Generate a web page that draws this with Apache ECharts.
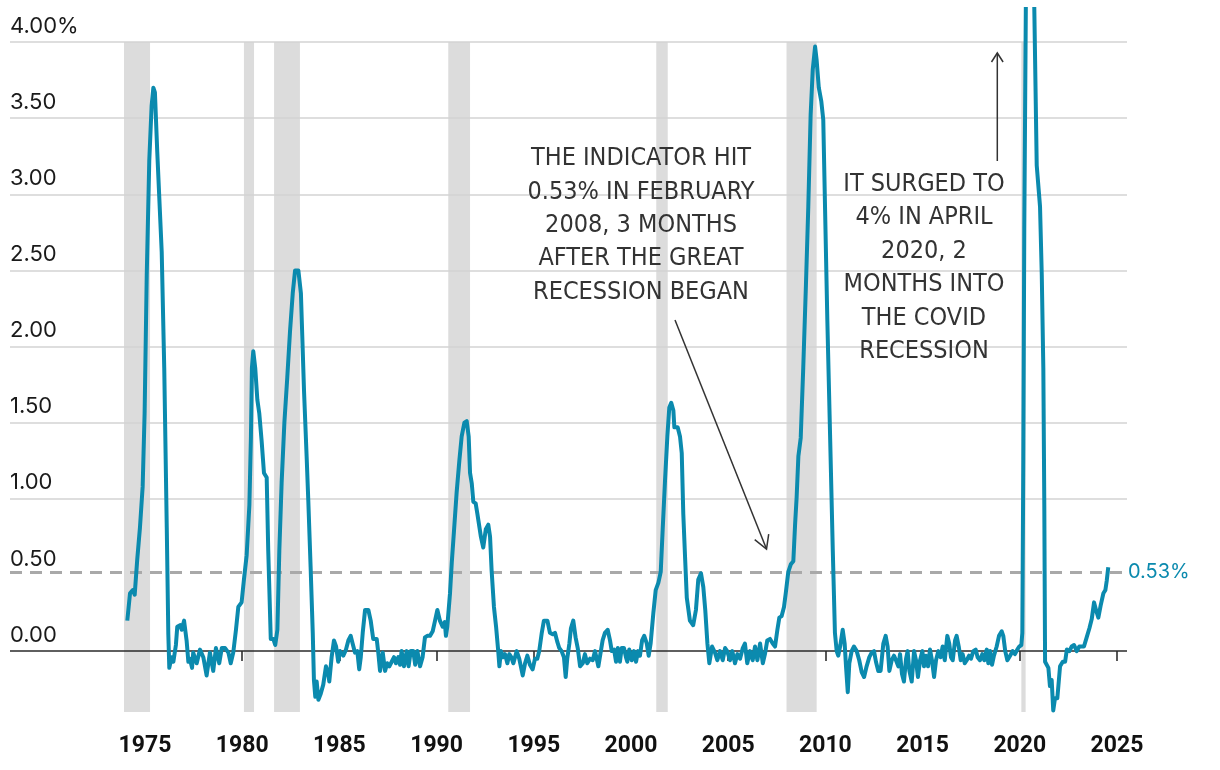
<!DOCTYPE html>
<html><head><meta charset="utf-8">
<script src="https://cdn.jsdelivr.net/npm/echarts@6/dist/echarts.min.js"></script>
<style>html,body{margin:0;padding:0;background:#fff}#c{width:1220px;height:770px}</style>
</head><body><div id="c"></div>
<script>
// decimal year of each reading
const dates = [
1974.09,1974.23,1974.37,1974.47,1974.60,1974.74,1974.88,1974.98,1975.09,1975.22,1975.34,1975.43,1975.51,1975.63,1975.86,1975.99,
1976.12,1976.20,1976.25,1976.37,1976.46,1976.59,1976.66,1976.80,1976.89,1977.01,1977.14,1977.23,1977.31,1977.42,1977.48,1977.66,
1977.83,1978.00,1978.17,1978.34,1978.51,1978.65,1978.82,1978.95,1979.12,1979.29,1979.41,1979.54,1979.60,1979.68,1979.80,1979.97,
1980.09,1980.23,1980.37,1980.45,1980.50,1980.57,1980.67,1980.78,1980.88,1981.00,1981.12,1981.26,1981.34,1981.47,1981.60,1981.70,
1981.81,1981.91,1982.03,1982.17,1982.32,1982.46,1982.60,1982.72,1982.89,1983.02,1983.18,1983.32,1983.40,1983.52,1983.63,1983.69,
1983.76,1983.83,1983.92,1984.04,1984.17,1984.31,1984.43,1984.48,1984.60,1984.72,1984.83,1984.94,1985.03,1985.20,1985.34,1985.46,
1985.58,1985.68,1985.80,1985.92,1986.02,1986.10,1986.20,1986.32,1986.49,1986.61,1986.74,1986.92,1987.00,1987.09,1987.23,1987.35,
1987.46,1987.57,1987.69,1987.81,1987.91,1988.03,1988.12,1988.20,1988.32,1988.46,1988.56,1988.67,1988.80,1988.90,1989.01,1989.15,
1989.28,1989.40,1989.52,1989.66,1989.80,1989.92,1990.04,1990.17,1990.31,1990.42,1990.48,1990.55,1990.69,1990.78,1990.90,1991.03,
1991.17,1991.29,1991.43,1991.55,1991.65,1991.72,1991.81,1991.89,1992.01,1992.10,1992.20,1992.28,1992.40,1992.53,1992.66,1992.75,
1992.83,1992.95,1993.06,1993.17,1993.23,1993.31,1993.43,1993.52,1993.64,1993.74,1993.84,1993.95,1994.12,1994.25,1994.43,1994.55,
1994.67,1994.80,1994.94,1995.06,1995.18,1995.28,1995.41,1995.52,1995.70,1995.83,1995.97,1996.09,1996.21,1996.31,1996.43,1996.55,
1996.64,1996.72,1996.83,1996.91,1997.03,1997.15,1997.26,1997.38,1997.52,1997.63,1997.75,1997.89,1998.03,1998.15,1998.32,1998.54,
1998.66,1998.80,1998.92,1999.01,1999.13,1999.23,1999.32,1999.43,1999.52,1999.64,1999.74,1999.81,1999.91,2000.04,2000.15,2000.26,
2000.36,2000.46,2000.57,2000.68,2000.81,2000.91,2001.01,2001.15,2001.27,2001.41,2001.53,2001.63,2001.75,2001.87,2001.97,2002.07,
2002.18,2002.23,2002.40,2002.52,2002.61,2002.69,2002.78,2002.87,2003.03,2003.20,2003.34,2003.46,2003.60,2003.72,2003.82,2003.93,
2004.03,2004.17,2004.32,2004.44,2004.58,2004.72,2004.84,2004.95,2005.09,2005.21,2005.35,2005.47,2005.61,2005.75,2005.86,2005.98,
2006.12,2006.26,2006.38,2006.50,2006.64,2006.78,2006.89,2007.01,2007.15,2007.29,2007.41,2007.53,2007.63,2007.75,2007.87,2007.97,
2008.09,2008.22,2008.35,2008.44,2008.52,2008.61,2008.73,2008.86,2009.00,2009.12,2009.24,2009.35,2009.47,2009.55,2009.66,2009.79,
2009.89,2009.98,2010.10,2010.24,2010.38,2010.49,2010.58,2010.66,2010.77,2010.89,2010.99,2011.06,2011.15,2011.23,2011.35,2011.47,
2011.61,2011.74,2011.87,2011.99,2012.12,2012.26,2012.38,2012.50,2012.60,2012.72,2012.84,2012.98,2013.10,2013.20,2013.29,2013.41,
2013.53,2013.63,2013.75,2013.84,2013.94,2014.04,2014.15,2014.23,2014.32,2014.44,2014.56,2014.66,2014.76,2014.87,2014.99,2015.07,
2015.17,2015.28,2015.38,2015.48,2015.59,2015.69,2015.81,2015.93,2016.03,2016.14,2016.27,2016.37,2016.46,2016.55,2016.67,2016.75,
2016.86,2016.96,2017.06,2017.17,2017.27,2017.39,2017.49,2017.61,2017.73,2017.83,2017.95,2018.07,2018.17,2018.30,2018.38,2018.47,
2018.57,2018.67,2018.81,2018.93,2019.07,2019.15,2019.25,2019.36,2019.50,2019.63,2019.75,2019.87,2019.97,2020.08,2020.13,2020.18,
2020.23,2020.33,2020.50,2020.70,2020.87,2021.04,2021.13,2021.21,2021.26,2021.30,2021.38,2021.47,2021.55,2021.64,2021.72,2021.81,
2021.93,2022.07,2022.21,2022.33,2022.42,2022.55,2022.67,2022.79,2022.93,2023.06,2023.18,2023.30,2023.44,2023.58,2023.70,2023.82,
2023.92,2024.04,2024.16,2024.30,2024.40,2024.47,2024.55
];
// indicator value, percentage points
const values = [
0.20,0.38,0.40,0.37,0.60,0.81,1.08,1.56,2.47,3.22,3.58,3.70,3.67,3.28,2.62,1.86,
0.81,0.11,-0.11,-0.04,-0.07,0.04,0.16,0.17,0.14,0.20,0.07,-0.07,-0.05,-0.11,-0.01,-0.08,
0.01,-0.04,-0.16,-0.01,-0.13,0.02,-0.08,0.02,0.02,-0.01,-0.08,-0.01,0.00,0.14,0.29,0.32,
0.47,0.63,0.96,1.41,1.86,1.97,1.86,1.65,1.56,1.38,1.17,1.14,0.66,0.08,0.08,0.04,
0.14,0.66,1.11,1.50,1.80,2.10,2.35,2.50,2.50,2.35,1.71,1.26,0.99,0.55,0.12,-0.19,
-0.30,-0.20,-0.32,-0.28,-0.22,-0.10,-0.15,-0.20,-0.04,0.07,0.03,-0.07,0.00,-0.03,0.01,0.07,
0.10,0.05,-0.01,0.00,-0.12,-0.04,0.12,0.27,0.27,0.20,0.08,0.08,-0.01,-0.13,-0.01,-0.13,
-0.08,-0.10,-0.07,-0.04,-0.08,-0.04,-0.09,0.00,-0.10,0.00,-0.10,0.00,0.00,-0.09,0.00,-0.10,
-0.04,0.09,0.10,0.10,0.13,0.20,0.27,0.20,0.16,0.19,0.10,0.16,0.38,0.58,0.80,1.04,
1.25,1.41,1.50,1.51,1.41,1.17,1.10,0.98,0.97,0.90,0.89,0.75,0.68,0.80,0.83,0.75,
0.53,0.29,0.16,0.00,-0.10,0.00,-0.04,-0.02,-0.08,-0.02,-0.04,-0.08,0.00,-0.05,-0.16,-0.08,
-0.03,-0.09,-0.12,-0.05,-0.05,0.00,0.12,0.20,0.20,0.12,0.11,0.12,0.06,0.02,0.00,-0.04,
-0.17,-0.05,0.05,0.15,0.20,0.09,0.02,-0.10,-0.08,-0.02,-0.08,-0.05,-0.06,0.00,-0.10,0.07,
0.12,0.14,0.07,0.00,0.01,-0.07,0.02,-0.07,0.02,0.02,-0.04,-0.07,0.01,-0.06,0.00,-0.07,
0.00,-0.03,0.07,0.10,0.05,-0.03,0.05,0.25,0.40,0.45,0.52,0.80,1.12,1.41,1.60,1.63,
1.58,1.47,1.47,1.41,1.30,0.90,0.62,0.35,0.20,0.17,0.27,0.47,0.51,0.42,0.27,0.05,
-0.08,0.03,-0.01,-0.06,0.00,-0.06,0.02,0.00,-0.06,0.00,-0.08,-0.02,-0.05,0.02,0.05,-0.08,
0.00,-0.06,0.03,-0.06,0.05,-0.08,-0.02,0.07,0.08,0.05,0.03,0.14,0.22,0.23,0.29,0.39,
0.52,0.57,0.59,0.83,1.01,1.28,1.40,1.86,2.41,2.92,3.52,3.82,3.97,3.88,3.70,3.61,
3.49,2.92,2.17,1.42,0.66,0.12,0.00,-0.03,0.04,0.14,0.05,-0.10,-0.27,-0.08,0.00,0.03,
0.00,-0.06,-0.14,-0.17,-0.10,-0.04,-0.01,0.00,-0.07,-0.13,-0.13,0.05,0.10,0.03,-0.13,-0.06,
-0.03,-0.06,-0.10,-0.02,-0.15,-0.20,-0.05,0.00,-0.13,-0.20,0.00,-0.06,-0.17,-0.06,0.00,-0.10,
-0.03,-0.10,0.01,-0.06,-0.17,-0.06,0.00,-0.04,0.03,-0.06,0.10,0.05,-0.04,-0.06,0.07,0.10,
0.03,-0.06,-0.02,-0.08,-0.06,-0.03,-0.05,0.00,0.01,-0.04,-0.06,-0.02,-0.06,0.01,-0.08,0.00,
-0.09,-0.03,0.03,0.10,0.13,0.10,0.00,-0.06,-0.03,0.00,-0.02,0.01,0.03,0.04,0.12,1.26,
2.77,4.60,5.00,4.60,3.19,2.92,2.47,1.86,0.96,-0.07,-0.07,-0.11,-0.23,-0.19,-0.39,-0.31,
-0.31,-0.10,-0.07,-0.07,0.01,0.00,0.03,0.04,0.00,0.03,0.03,0.03,0.09,0.15,0.21,0.32,
0.27,0.22,0.30,0.38,0.40,0.46,0.55
];
// recession periods (start, end), decimal years
const recessionStarts = [1973.92, 1980.09, 1981.64, 1990.60, 2001.30, 2008.00, 2020.08];
const recessionEnds   = [1975.26, 1980.61, 1982.97, 1991.72, 2001.89, 2009.55, 2020.30];
const xTickValues = [1975, 1980, 1985, 1990, 1995, 2000, 2005, 2010, 2015, 2020, 2025];
const yTickValues = [0, 0.5, 1, 1.5, 2, 2.5, 3, 3.5, 4];
const gridLineValues = [1, 1.5, 2, 2.5, 3, 3.5, 4];
const thresholdLevel = 0.515;
const thresholdLabel = '0.53%';
const annotation1 = ['THE INDICATOR HIT', '0.53% IN FEBRUARY', '2008, 3 MONTHS', 'AFTER THE GREAT', 'RECESSION BEGAN'];
const annotation2 = ['IT SURGED TO', '4% IN APRIL', '2020, 2', 'MONTHS INTO', 'THE COVID', 'RECESSION'];

const LINE = '#0b8aae';
const NARROW = '"Liberation Sans Narrow", "DejaVu Sans Condensed", "Arial Narrow", sans-serif';
const chart = echarts.init(document.getElementById('c'), null, {renderer: 'canvas'});
const seriesData = dates.map((d, i) => [d, values[i]]);

const option = {
  animation: false,
  backgroundColor: '#fff',
  grid: {left: 10, right: 93, top: 9, bottom: 58, containLabel: false, outerBoundsMode: 'none'},
  xAxis: {
    type: 'value', min: 1968.056, max: 2025.514,
    axisLine: {show: false},
    splitLine: {show: false},
    axisTick: {show: true, customValues: xTickValues, length: 10, lineStyle: {color: '#222', width: 1.5}},
    axisLabel: {customValues: xTickValues, margin: 23, color: '#111', fontSize: 23, fontWeight: 'bold',
      fontFamily: 'Roboto, "Liberation Sans", sans-serif', formatter: v => String(Math.round(v))}
  },
  yAxis: {
    type: 'value', min: -0.4, max: 4.217,
    axisLine: {show: false}, axisTick: {show: false}, splitLine: {show: false},
    axisLabel: {customValues: yTickValues, inside: true, margin: 0, align: 'left', verticalAlign: 'bottom',
      padding: [0, 0, 5, 0], color: '#1a1a1a', fontSize: 22, fontFamily: 'Inter, "Noto Sans", sans-serif',
      formatter: v => Math.abs(v - 4) < 1e-9 ? '4.00%' : v.toFixed(2)}
  },
  series: [
    {
      type: 'line', data: seriesData, silent: true, symbol: 'none', z: 1,
      lineStyle: {opacity: 0},
      markArea: {silent: true, itemStyle: {color: '#dcdcdc'},
        data: recessionStarts.map((s, i) => [{xAxis: s, yAxis: -0.4}, {xAxis: recessionEnds[i], yAxis: 4}])},
      markLine: {silent: true, symbol: ['none', 'none'], animation: false, label: {show: false},
        data: [
          ...gridLineValues.map(v => ({yAxis: v, lineStyle: {color: '#d3d3d3', width: 1.5, type: 'solid'}})),
          {yAxis: 0, lineStyle: {color: '#2a2a2a', width: 1.5, type: 'solid'}},
          {yAxis: thresholdLevel, lineStyle: {color: '#a9a9a9', width: 3, type: [12, 8]},
            label: {show: true, position: 'end', distance: 1, formatter: thresholdLabel,
              color: LINE, fontSize: 20, fontFamily: 'Inter, "Noto Sans", sans-serif'}}
        ]}
    },
    {
      type: 'line', data: seriesData, z: 10, symbol: 'none', showSymbol: false, silent: true,
      lineStyle: {color: LINE, width: 4, join: 'round'}
    }
  ],
  graphic: [
    {type: 'text', z: 20, style: {text: annotation1.join('\n'), x: 641, y: 142, textAlign: 'center', textVerticalAlign: 'top',
      font: '25px ' + NARROW, lineHeight: 33.4, fill: '#333'}},
    {type: 'text', z: 20, style: {text: annotation2.join('\n'), x: 924, y: 167.5, textAlign: 'center', textVerticalAlign: 'top',
      font: '25px ' + NARROW, lineHeight: 33.5, fill: '#333'}},
    {type: 'line', z: 20, shape: {x1: 675, y1: 320, x2: 766.5, y2: 549}, style: {stroke: '#333', lineWidth: 1.5}},
    {type: 'polyline', z: 20, shape: {points: [[768.7, 534.2], [766.5, 549], [754.7, 539.7]]}, style: {stroke: '#333', lineWidth: 1.5, fill: null}},
    {type: 'line', z: 20, shape: {x1: 997.3, y1: 161, x2: 997.3, y2: 53}, style: {stroke: '#333', lineWidth: 1.5}},
    {type: 'polyline', z: 20, shape: {points: [[991.5, 62], [997.3, 53], [1003.1, 62]]}, style: {stroke: '#333', lineWidth: 1.5, fill: null}}
  ]
};
chart.setOption(option);
</script>
</body></html>
